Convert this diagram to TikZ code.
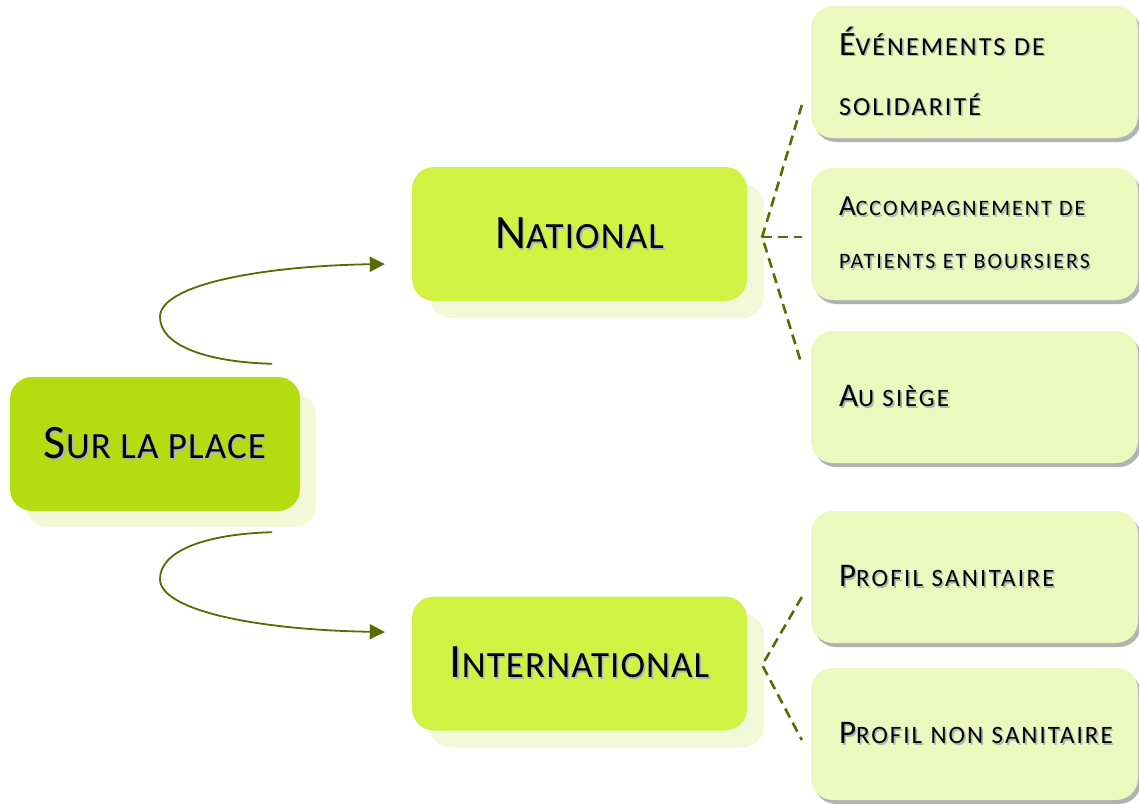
\documentclass[tikz,border=0pt]{standalone}
\usepackage{fontspec}
\setmainfont{Carlito}
\usetikzlibrary{arrows.meta,calc,shadows}
\definecolor{surfill}{HTML}{B5DC10}
\definecolor{natfill}{HTML}{D1F243}
\definecolor{rfill}{HTML}{EDF8BE}
\definecolor{lshadow}{HTML}{F2F8D8}
\definecolor{conn}{HTML}{596A00}
% fake small caps: big size, small size, letter spacing, initial, rest
\newcommand\mysc[5]{{\addfontfeature{LetterSpace=#3}{\fontsize{#1}{#1}\selectfont #4}{\fontsize{#2}{#2}\selectfont #5}}}
\newcommand\tsh[1]{\mbox{\makebox[0pt][l]{\kern1.6pt\raisebox{-1.6pt}{\color{black!30}#1}}#1}}
\begin{document}
\begin{tikzpicture}[x=1pt,y=-1pt,
  mainbox/.style={rounded corners=22pt, inner sep=0pt, minimum height=134pt},
  sbox/.style={mainbox, minimum width=290pt, fill=surfill, font=\fontsize{37}{44}\selectfont,
    drop shadow={shadow xshift=16pt, shadow yshift=-16pt, fill=lshadow, opacity=1}},
  nbox/.style={mainbox, minimum width=335pt, fill=natfill, font=\fontsize{37}{44}\selectfont,
    drop shadow={shadow xshift=17pt, shadow yshift=-17pt, fill=lshadow, opacity=1}},
  rbox/.style={mainbox, minimum width=327pt, minimum height=132pt, fill=rfill,
    align=left, text width=271pt, inner xsep=28pt, font=\fontsize{25}{30}\selectfont,
    drop shadow={shadow xshift=3pt, shadow yshift=-4pt, fill=black!60, opacity=0.5}},
  carrow/.style={draw=conn, line width=1.8pt, -{Triangle[length=15pt,width=15pt]}},
  dline/.style={draw=conn, line width=2.6pt, dash pattern=on 10pt off 6pt},
]
\useasboundingbox (0,0) rectangle (1139,803);

% left and middle boxes
\node[sbox] (sur) at (155,444) {\tsh{\mysc{48}{37}{3}{S}{UR LA PLACE}}};
\node[nbox] (nat) at (579.5,234) {\tsh{\mysc{48}{37}{3}{N}{ATIONAL}}};
\node[nbox] (intl) at (579.5,663.5) {\tsh{\mysc{48}{37}{3}{I}{NTERNATIONAL}}};

% right boxes
\node[rbox, font=\fontsize{26}{60}\selectfont] (r1) at (974.5,72)
  {\tsh{\mysc{34}{26}{8}{É}{VÉNEMENTS DE}}\\\tsh{\mysc{34}{26}{8}{}{SOLIDARITÉ}}};
\node[rbox, font=\fontsize{22}{53}\selectfont] (r2) at (974.5,234)
  {\tsh{\mysc{29}{22}{9}{A}{CCOMPAGNEMENT DE}}\\\tsh{\mysc{29}{22}{9}{}{PATIENTS ET BOURSIERS}}};
\node[rbox] (r3) at (974.5,397) {\tsh{\mysc{33}{25}{9}{A}{U SIÈGE}}};
\node[rbox] (r4) at (974.5,577) {\tsh{\mysc{33}{25}{9}{P}{ROFIL SANITAIRE}}};
\node[rbox] (r5) at (974.5,734) {\tsh{\mysc{33}{25}{8}{P}{ROFIL NON SANITAIRE}}};

% curved arrows
\coordinate (a1s) at ($(sur.north east)+(-28,-13)$);
\coordinate (a1e) at ($(nat.west)+(-27,30)$);
\coordinate (a2s) at ($(sur.south east)+(-28,21)$);
\coordinate (a2e) at ($(intl.west)+(-27,-31.5)$);
\draw[carrow] (a1s) .. controls (205,362) and (160,345) .. (160,317)
  .. controls (160,285) and (260,266) .. (a1e);
\draw[carrow] (a2s) .. controls (205,534) and (160,551) .. (160,579)
  .. controls (160,611) and (260,630) .. (a2e);

% dashed connectors
\coordinate (h1) at ($(nat.east)+(15,3)$);
\coordinate (e1) at ($(r1.west)+(-9,33)$);
\coordinate (e2) at ($(r2.west)+(-9,3)$);
\coordinate (e3) at ($(r3.west)+(-9,-32)$);
\draw[dline] (e1) -- (h1) -- (e3);
\draw[dline] (h1) -- (e2);
\coordinate (h2) at ($(intl.east)+(15,1.5)$);
\coordinate (e4) at ($(r4.west)+(-9,20)$);
\coordinate (e5) at ($(r5.west)+(-9,6)$);
\draw[dline] (e4) -- (h2) -- (e5);
\end{tikzpicture}
\end{document}
